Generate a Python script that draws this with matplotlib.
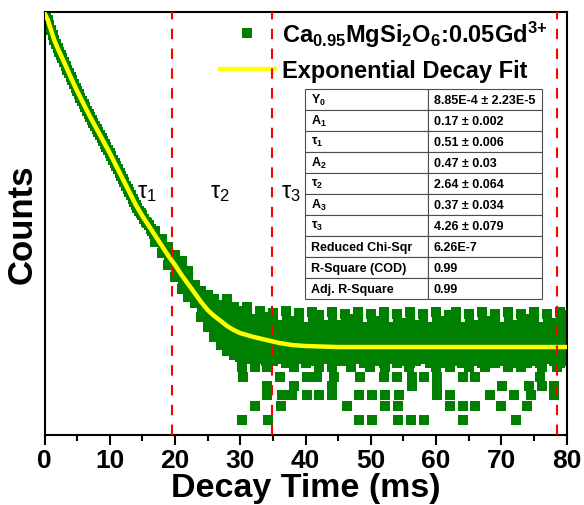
import matplotlib.pyplot as plt
from matplotlib.ticker import MultipleLocator, NullLocator

plt.rcParams['font.family'] = ['Liberation Sans', 'DejaVu Sans']
plt.rcParams['font.weight'] = 'bold'
plt.rcParams['axes.labelweight'] = 'bold'
plt.rcParams['mathtext.default'] = 'regular'

# ----------------------------
# Data (time in ms, normalised counts)
# ----------------------------
# clean decay part, read every 0.25 ms
decay_t = [0.0, 0.25, 0.5, 0.75, 1.0, 1.25, 1.5, 1.75, 2.0, 2.25, 2.5, 2.75,
           3.0, 3.25, 3.5, 3.75, 4.0, 4.25, 4.5, 4.75, 5.0, 5.25, 5.5, 5.75,
           6.0, 6.25, 6.5, 6.75, 7.0, 7.25, 7.5, 7.75, 8.0, 8.25, 8.5, 8.75,
           9.0, 9.25, 9.5, 9.75, 10.0, 10.25, 10.5, 10.75, 11.0, 11.25, 11.5,
           11.75, 12.0, 12.25, 12.5, 12.75, 13.0, 13.25, 13.5, 13.75, 14.0,
           14.25, 14.5, 14.75, 15.0, 15.25, 15.5, 15.75, 16.0, 16.25, 16.5,
           16.75]
decay_counts = [1.12, 1.05, 0.97, 0.87, 0.78, 0.70, 0.63, 0.58, 0.53, 0.49,
                0.455, 0.425, 0.395, 0.362, 0.333, 0.309, 0.287, 0.265,
                0.244, 0.227, 0.212, 0.196, 0.182, 0.171, 0.161, 0.149,
                0.138, 0.129, 0.121, 0.113, 0.106, 0.0995, 0.0936, 0.0873,
                0.0818, 0.0770, 0.0725, 0.0676, 0.0632, 0.0595, 0.0560,
                0.0520, 0.0483, 0.0452, 0.0424, 0.0393, 0.0365, 0.0342,
                0.0320, 0.0297, 0.0276, 0.0259, 0.0243, 0.0225, 0.0209,
                0.0196, 0.0184, 0.0172, 0.0161, 0.0153, 0.0146, 0.0136,
                0.0128, 0.0123, 0.0118, 0.0110, 0.0104, 0.0099]

# noisy part: top and bottom of the dense point cloud, every 1 ms
band_t = [17, 18, 19, 20, 21, 22, 23, 24, 25, 26, 27, 28, 29, 30, 31, 32,
          33, 34, 35, 36, 37, 38, 39, 40, 41, 42, 43, 44, 45, 46, 47, 48,
          49, 50, 51, 52, 53, 54, 55, 56, 57, 58, 59, 60, 61, 62, 63, 64,
          65, 66, 67, 68, 69, 70, 71, 72, 73, 74, 75, 76, 77, 78, 79, 80]
band_hi = [0.01047, 0.00881, 0.00742, 0.00625, 0.00550, 0.00444, 0.00328,
           0.00290, 0.00265, 0.00243, 0.00214, 0.00243, 0.00205, 0.00188,
           0.00205, 0.00158, 0.00188, 0.00165, 0.00180, 0.00139, 0.00188,
           0.00152, 0.00180, 0.00133, 0.00184, 0.00172, 0.00139, 0.00184,
           0.00139, 0.00176, 0.00158, 0.00184, 0.00133, 0.00176, 0.00152,
           0.00184, 0.00133, 0.00176, 0.00145, 0.00184, 0.00139, 0.00176,
           0.00133, 0.00184, 0.00152, 0.00172, 0.00184, 0.00133, 0.00176,
           0.00139, 0.00184, 0.00152, 0.00176, 0.00133, 0.00184, 0.00139,
           0.00176, 0.00158, 0.00184, 0.00133, 0.00176, 0.00145, 0.00184,
           0.00172]
band_lo = [0.00827, 0.00653, 0.00505, 0.00390, 0.00301, 0.00254, 0.00223,
           0.00165, 0.00133, 0.00108, 0.000906, 0.000797, 0.000731,
           0.000700, 0.000671, 0.000700, 0.000671, 0.000643, 0.000643,
           0.000671, 0.000616, 0.000643, 0.000671, 0.000616, 0.000643,
           0.000616, 0.000671, 0.000616, 0.000643, 0.000643, 0.000616,
           0.000671, 0.000616, 0.000643, 0.000643, 0.000616, 0.000671,
           0.000616, 0.000643, 0.000616, 0.000643, 0.000671, 0.000616,
           0.000643, 0.000616, 0.000671, 0.000643, 0.000616, 0.000643,
           0.000643, 0.000616, 0.000671, 0.000616, 0.000643, 0.000643,
           0.000616, 0.000671, 0.000616, 0.000643, 0.000616, 0.000671,
           0.000643, 0.000616, 0.000643]

# isolated low points below the cloud
outlier_t = [30.3, 32.3, 34.1, 38.2, 42.0, 44.1, 47.0, 49.9, 52.2, 55.8,
             60.0, 62.2, 65.0, 67.5, 71.0, 73.0, 76.2, 78.5,
             30.4, 36.1, 40.2, 41.8, 44.3, 48.4, 52.0, 54.0, 56.3, 58.1,
             60.1, 64.2, 66.0, 76.0,
             34.1, 38.2, 44.1, 56.3, 60.1, 70.1, 74.2, 76.2, 78.1,
             34.1, 36.4, 37.9, 40.2, 42.0, 44.1, 48.2, 50.2, 52.2, 54.3,
             60.2, 62.2, 68.3, 71.9, 74.5, 78.1,
             32.3, 36.3, 46.3, 52.2, 54.2, 62.2, 64.2, 66.0, 69.9, 73.9,
             30.3, 34.3, 48.2, 50.2, 54.2, 56.2, 58.2, 64.2, 72.2]
outlier_counts = [
    5.65e-4, 5.65e-4, 5.65e-4, 5.65e-4, 5.65e-4, 5.65e-4, 5.65e-4, 5.65e-4,
    5.65e-4, 5.65e-4, 5.65e-4, 5.65e-4, 5.65e-4, 5.65e-4, 5.65e-4, 5.65e-4,
    5.65e-4, 5.65e-4,
    4.56e-4, 4.56e-4, 4.56e-4, 4.56e-4, 4.56e-4, 4.56e-4, 4.56e-4, 4.56e-4,
    4.56e-4, 4.56e-4, 4.56e-4, 4.56e-4, 4.56e-4, 4.56e-4,
    3.76e-4, 3.76e-4, 3.76e-4, 3.76e-4, 3.76e-4, 3.76e-4, 3.76e-4, 3.76e-4,
    3.76e-4,
    3.10e-4, 3.10e-4, 3.10e-4, 3.10e-4, 3.10e-4, 3.10e-4, 3.10e-4, 3.10e-4,
    3.10e-4, 3.10e-4, 3.10e-4, 3.10e-4, 3.10e-4, 3.10e-4, 3.10e-4, 3.10e-4,
    2.45e-4, 2.45e-4, 2.45e-4, 2.45e-4, 2.45e-4, 2.45e-4, 2.45e-4, 2.45e-4,
    2.45e-4, 2.45e-4,
    1.81e-4, 1.81e-4, 1.81e-4, 1.81e-4, 1.81e-4, 1.81e-4, 1.81e-4, 1.81e-4,
    1.81e-4]

# exponential decay fit
fit_t = [0, 0.5, 1, 1.5, 2, 3, 4, 5, 6, 7, 8, 9, 10, 11, 12, 13, 14, 15, 16,
         17, 18, 19, 20, 21, 22, 23, 24, 25, 26, 27, 28, 29, 30, 32, 34, 36,
         38, 40, 45, 80]
fit_counts = [1.126, 0.968, 0.781, 0.630, 0.531, 0.393, 0.285, 0.211, 0.1597,
              0.1208, 0.0934, 0.0722, 0.0558, 0.0422, 0.0319, 0.0242, 0.01828,
              0.01444, 0.01165, 0.00940, 0.00758, 0.00612, 0.00505, 0.00407,
              0.00336, 0.00277, 0.00228, 0.00192, 0.00169, 0.00152, 0.00136,
              0.00125, 0.00117, 0.00108, 0.00101, 0.000946, 0.000906,
              0.000887, 0.000868, 0.000868]

region_lines = [19.6, 34.9, 78.5]

param_names = ['Y$_0$', 'A$_1$', '\u03c4$_1$', 'A$_2$', '\u03c4$_2$', 'A$_3$',
               '\u03c4$_3$', 'Reduced Chi-Sqr', 'R-Square (COD)',
               'Adj. R-Square']
param_values = ['8.85E-4 \u00b1 2.23E-5', '0.17 \u00b1 0.002',
                '0.51 \u00b1 0.006', '0.47 \u00b1 0.03', '2.64 \u00b1 0.064',
                '0.37 \u00b1 0.034', '4.26 \u00b1 0.079', '6.26E-7', '0.99',
                '0.99']

green = '#008000'

# ----------------------------
# Figure
# ----------------------------
fig = plt.figure(figsize=(5.84, 5.06), dpi=100)
ax = fig.add_axes([0.0762, 0.1383, 0.894, 0.836])
ax.set_yscale('log')

ax.vlines(band_t, band_lo, band_hi, color=green, lw=6.6, zorder=2)
ax.plot(band_t, band_hi, 's', color=green, ms=6.6, mew=0, zorder=2)
ax.plot(band_t, band_lo, 's', color=green, ms=6.6, mew=0, zorder=2)
ax.plot(outlier_t, outlier_counts, 's', color=green, ms=6.6, mew=0, zorder=2)
ax.plot(decay_t, decay_counts, 's', color=green, ms=6.6, mew=0, zorder=2,
        label=r'Ca$_{0.95}$MgSi$_2$O$_6$:0.05Gd$^{3{+}}$')
ax.plot(fit_t, fit_counts, color='#ffff00', lw=3.2, zorder=3,
        label='Exponential Decay Fit')

for x in region_lines:
    ax.axvline(x, color='red', lw=1.5, dashes=(5, 4.5), zorder=6)

ax.text(0.177, 0.574, '\u03c4$_1$', transform=ax.transAxes, fontsize=17,
        fontweight='normal', va='center')
ax.text(0.317, 0.574, '\u03c4$_2$', transform=ax.transAxes, fontsize=17,
        fontweight='normal', va='center')
ax.text(0.453, 0.574, '\u03c4$_3$', transform=ax.transAxes, fontsize=17,
        fontweight='normal', va='center')

# parameter table
tbl = ax.table(cellText=[[n, v] for n, v in zip(param_names, param_values)],
               colWidths=[0.519, 0.481], cellLoc='left',
               bbox=[0.499, 0.3215, 0.454, 0.496], zorder=4)
tbl.auto_set_font_size(False)
tbl.set_fontsize(9)
for cell in tbl.get_celld().values():
    cell.set_edgecolor('0.3')
    cell.set_linewidth(0.8)
    cell.PAD = 0.05
    cell.get_text().set_fontweight('bold')

leg = ax.legend(loc='upper left', bbox_to_anchor=(0.336, 0.985),
                frameon=False, fontsize=17, handlelength=2.33,
                handletextpad=0.3, borderpad=0, borderaxespad=0,
                labelspacing=0.45)

# ----------------------------
# Axes settings
# ----------------------------
ax.set_xlim(0, 80)
ax.set_ylim(1.314e-4, 1.15)
ax.xaxis.set_major_locator(MultipleLocator(10))
ax.xaxis.set_minor_locator(MultipleLocator(5))
ax.yaxis.set_major_locator(NullLocator())
ax.yaxis.set_minor_locator(NullLocator())
ax.tick_params(axis='x', which='major', direction='out', length=7, width=1.5,
               labelsize=19, pad=2)
ax.tick_params(axis='x', which='minor', direction='out', length=4, width=1.5)
for s in ax.spines.values():
    s.set_linewidth(1.5)

ax.set_xlabel('Decay Time (ms)', fontsize=24.5, fontweight='bold', labelpad=0)
ax.set_ylabel('Counts', fontsize=25, fontweight='bold', labelpad=4)

fig.savefig('out.png', dpi=100)
